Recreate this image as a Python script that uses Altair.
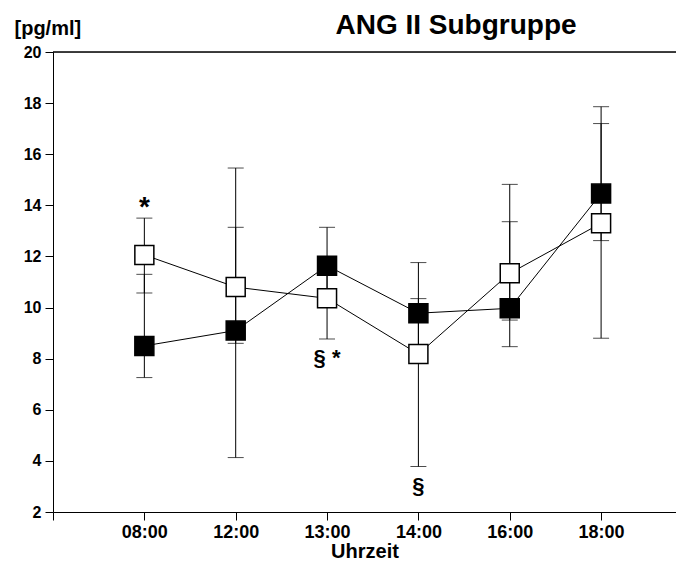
import json
import altair as alt
import pandas as pd

times = ["08:00", "12:00", "13:00", "14:00", "16:00", "18:00"]
filled_mean = [8.5, 9.1, 11.64, 9.78, 9.97, 14.46]
filled_lo = [7.26, 4.13, 10.4, 8.2, 8.47, 12.62]
filled_hi = [11.3, 15.46, 13.14, 11.76, 14.82, 17.86]
open_mean = [12.06, 10.8, 10.36, 8.18, 11.34, 13.3]
open_lo = [10.57, 8.6, 8.77, 3.78, 9.51, 8.8]
open_hi = [13.5, 13.14, 11.6, 10.35, 13.36, 17.2]

star_pos = [1]
star_y = [13.6]
star_text = ["*"]
sect_pos = [3, 4]
sect_y = [7.75, 2.75]
sect_text = ["§ *", "§"]

title_text = ["ANG II Subgruppe"]

rows = []
for i, t in enumerate(times):
    rows.append({"group": "filled", "pos": i + 1, "mean": filled_mean[i], "lo": filled_lo[i], "hi": filled_hi[i]})
    rows.append({"group": "open", "pos": i + 1, "mean": open_mean[i], "lo": open_lo[i], "hi": open_hi[i]})
df = pd.DataFrame(rows)
stars = pd.DataFrame({"pos": star_pos, "y": star_y, "text": star_text})
sects = pd.DataFrame({"pos": sect_pos, "y": sect_y, "text": sect_text})
titles = pd.DataFrame({"t": title_text})

FONT = "Liberation Sans"
label_expr = "datum.value == 0 ? '' : " + json.dumps(times).replace('"', "'") + "[datum.value - 1]"

xscale = alt.Scale(domain=[0, 6.82], nice=False, zero=False)
yscale = alt.Scale(domain=[2, 20], nice=False, zero=False)
xaxis = alt.Axis(values=[0, 1, 2, 3, 4, 5, 6], labelExpr=label_expr, title="Uhrzeit",
                 grid=False, tickSize=8, tickColor="black", domainColor="black",
                 labelFont=FONT, labelFontSize=18, labelFontWeight="bold", labelColor="black",
                 labelPadding=3, titleFont=FONT, titleFontSize=20, titleFontWeight="bold",
                 titleColor="black", titlePadding=0)
yaxis = alt.Axis(values=list(range(2, 21, 2)), title="[pg/ml]", grid=False, tickSize=8,
                 tickColor="black", domainColor="black", labelFont=FONT, labelFontSize=16,
                 labelFontWeight="bold", labelColor="black", labelPadding=4,
                 titleFont=FONT, titleFontSize=20, titleFontWeight="bold", titleColor="black",
                 titleAngle=0, titleAlign="left", titleBaseline="alphabetic", titleX=-39, titleY=-18)


def X():
    return alt.X("pos:Q", scale=xscale, axis=xaxis)


def Y(field):
    return alt.Y(field, scale=yscale, axis=yaxis)


base = alt.Chart(df)

top = alt.Chart(titles).mark_rule(color="black", strokeWidth=1.5).encode(y=alt.datum(20))
err = base.mark_rule(color="black", strokeWidth=1).encode(x=X(), y=Y("lo:Q"), y2="hi:Q")
cap_lo = base.mark_tick(orient="horizontal", size=16, thickness=1, color="black").encode(x=X(), y=Y("lo:Q"))
cap_hi = base.mark_tick(orient="horizontal", size=16, thickness=1, color="black").encode(x=X(), y=Y("hi:Q"))
lines = base.mark_line(color="black", strokeWidth=1).encode(x=X(), y=Y("mean:Q"), detail="group:N")
sq_filled = base.transform_filter(alt.datum.group == "filled").mark_square(
    size=361, filled=True, color="black", stroke="black", strokeWidth=1.5, opacity=1
).encode(x=X(), y=Y("mean:Q"))
sq_open = base.transform_filter(alt.datum.group == "open").mark_square(
    size=361, filled=True, fill="white", stroke="black", strokeWidth=1.5, opacity=1
).encode(x=X(), y=Y("mean:Q"))
t_star = alt.Chart(stars).mark_text(font=FONT, fontSize=28, fontWeight="bold", color="black",
                                    baseline="alphabetic", align="center").encode(
    x=X(), y=Y("y:Q"), text="text:N")
t_sect = alt.Chart(sects).mark_text(font=FONT, fontSize=22, fontWeight="bold", color="black",
                                    baseline="alphabetic", align="center").encode(
    x=X(), y=Y("y:Q"), text="text:N")
t_title = alt.Chart(titles).mark_text(font=FONT, fontSize=28, fontWeight="bold", color="black",
                                      baseline="alphabetic", align="center").encode(
    x=alt.value(403), y=alt.value(-18), text="t:N")

chart = alt.layer(top, err, cap_lo, cap_hi, lines, sq_filled, sq_open, t_star, t_sect, t_title).properties(
    width=623, height=460,
    autosize=alt.AutoSizeParams(type="none"),
    padding={"left": 45, "top": 44, "right": 0, "bottom": 49},
).configure_view(stroke=None).configure(background="white")

chart.save("out.html", embed_options={"renderer": "svg", "actions": False})
